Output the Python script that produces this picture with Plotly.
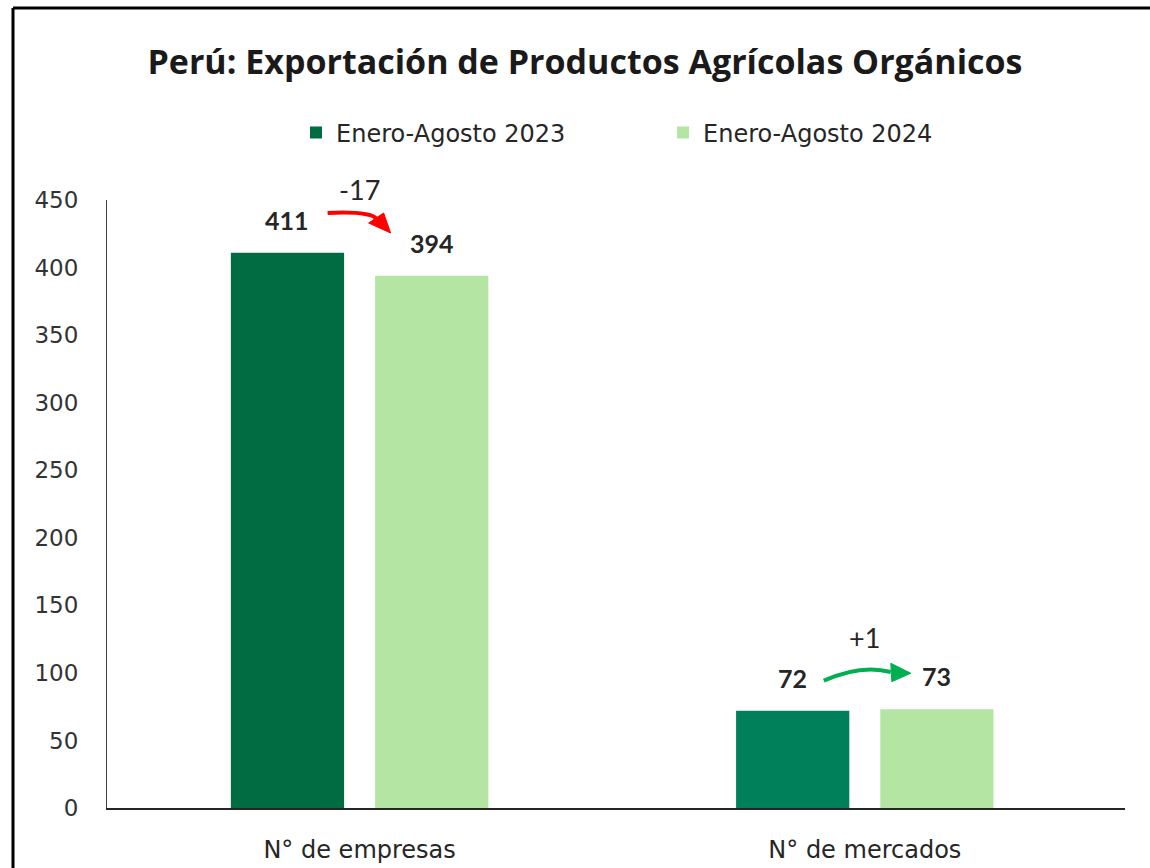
import plotly.graph_objects as go

# ---------------- data ----------------
categories = ["N° de empresas", "N° de mercados"]
series_names = ["Enero-Agosto 2023", "Enero-Agosto 2024"]
values_2023 = [411, 72]
values_2024 = [394, 73]
colors_2023 = ["#016B42", "#00805A"]
color_2024 = "#B4E5A2"
y_ticks = [0, 50, 100, 150, 200, 250, 300, 350, 400, 450]

# ---------------- layout constants ----------------
W, H = 1150, 868
M_L, M_R, M_T, M_B = 107, 25, 200, 60
X_RANGE = [-0.5, 1.515]
Y_RANGE = [0, 450]
BARGAP, BARGROUPGAP = 0.429, 0.215

plot_w = W - M_L - M_R
plot_h = H - M_T - M_B
px_x = plot_w / (X_RANGE[1] - X_RANGE[0])
px_y = plot_h / (Y_RANGE[1] - Y_RANGE[0])
slot = (1 - BARGAP) / 2
offset = slot / 2

x_idx = list(range(len(categories)))
changes = [b - a for a, b in zip(values_2023, values_2024)]

fig = go.Figure()
fig.add_trace(go.Bar(x=x_idx, y=values_2023, name=series_names[0],
                     marker=dict(color=colors_2023, line=dict(width=0))))
fig.add_trace(go.Bar(x=x_idx, y=values_2024, name=series_names[1],
                     marker=dict(color=color_2024, line=dict(width=0))))

# value labels
for i in x_idx:
    for sgn, v in ((-1, values_2023[i]), (1, values_2024[i])):
        fig.add_annotation(x=i + sgn * offset, y=v, xref="x", yref="y",
                           text=f"<b>{v}</b>", showarrow=False, yshift=33,
                           font=dict(family="Lato", size=25, color="#262626"))

# change labels
delta_shift = [63, 72]
for i in x_idx:
    fig.add_annotation(x=i, y=max(values_2023[i], values_2024[i]), xref="x", yref="y",
                       text=f"{changes[i]:+d}", showarrow=False, yshift=delta_shift[i],
                       font=dict(family="Lato", size=27, color="#262626"))


def pt(i, v, dx, dy):
    """category index i, value v, pixel offsets dx (right) and dy (up)"""
    return (i + dx / px_x, v + dy / px_y)


def arrow(i, v, start, ctrl, end, tip, b1, b2, color):
    p0, pc, p1 = pt(i, v, *start), pt(i, v, *ctrl), pt(i, v, *end)
    path = f"M {p0[0]},{p0[1]} Q {pc[0]},{pc[1]} {p1[0]},{p1[1]}"
    fig.add_shape(type="path", path=path, xref="x", yref="y",
                  line=dict(color=color, width=4), layer="above")
    t, a, b = pt(i, v, *tip), pt(i, v, *b1), pt(i, v, *b2)
    tri = f"M {t[0]},{t[1]} L {a[0]},{a[1]} L {b[0]},{b[1]} Z"
    fig.add_shape(type="path", path=tri, xref="x", yref="y",
                  line=dict(color=color, width=1), fillcolor=color, layer="above")


# red arrow (decrease) anchored at empresas, top of 411 bar
top0 = values_2023[0]
arrow(0, top0, start=(-32, 39.7), ctrl=(9.5, 41.7), end=(17, 34),
      tip=(31, 19.7), b1=(9, 29.7), b2=(24, 39.7), color="#FF0000")
# green arrow (increase) anchored at mercados, top of 73 bar
top1 = values_2024[1]
arrow(1, top1, start=(-41, 28.7), ctrl=(-4, 45.4), end=(26, 37.4),
      tip=(46, 36.1), b1=(26, 46.1), b2=(27, 27.7), color="#00B050")

# outer frame (left and top edges visible in the crop)
fx0 = (13 - M_L) / plot_w
fx1 = (W + 40 - M_L) / plot_w
fy0 = -M_B / plot_h
fy1 = (H - M_B - 8) / plot_h
fig.add_shape(type="line", xref="paper", yref="paper",
              x0=fx0, x1=fx0, y0=fy0, y1=fy1,
              line=dict(color="#000000", width=3), layer="above")
fig.add_shape(type="line", xref="paper", yref="paper",
              x0=fx0, x1=fx1, y0=fy1, y1=fy1,
              line=dict(color="#000000", width=3), layer="above")

fig.update_layout(
    width=W, height=H,
    margin=dict(l=M_L, r=M_R, t=M_T, b=M_B, pad=0, autoexpand=False),
    paper_bgcolor="white", plot_bgcolor="white",
    barmode="group", bargap=BARGAP, bargroupgap=BARGROUPGAP,
    title=dict(text="<b>Perú: Exportación de Productos Agrícolas Orgánicos</b>",
               x=585 / W, xanchor="center", xref="container",
               y=1 - 62 / H, yanchor="middle", yref="container",
               font=dict(family="Open Sans", size=34, color="#1a1a1a")),
    legend=dict(orientation="h", x=(663 - M_L) / plot_w, xanchor="center",
                y=(H - M_B - 133) / plot_h, yanchor="middle",
                font=dict(family="DejaVu Sans", size=24, color="#262626"),
                entrywidth=322, entrywidthmode="pixels",
                itemwidth=30, bgcolor="rgba(0,0,0,0)"),
    showlegend=True,
    xaxis=dict(range=X_RANGE, tickvals=x_idx, ticktext=categories,
               showgrid=False, zeroline=False, showline=True,
               linecolor="#262626", linewidth=1.5, ticks="",
               ticklabelstandoff=19,
               tickfont=dict(family="DejaVu Sans", size=24, color="#262626")),
    yaxis=dict(range=Y_RANGE, tickvals=y_ticks, showgrid=False, zeroline=False,
               showline=True, linecolor="#404040", linewidth=1, ticks="",
               ticklabelstandoff=23,
               tickfont=dict(family="DejaVu Sans", size=23, color="#333333")),
)

fig.write_html("out.html",
               config={"displayModeBar": False},
               post_script="document.body.style.margin='0';"
                           "document.body.style.overflow='hidden';"
                           "document.documentElement.style.overflow='hidden';")
